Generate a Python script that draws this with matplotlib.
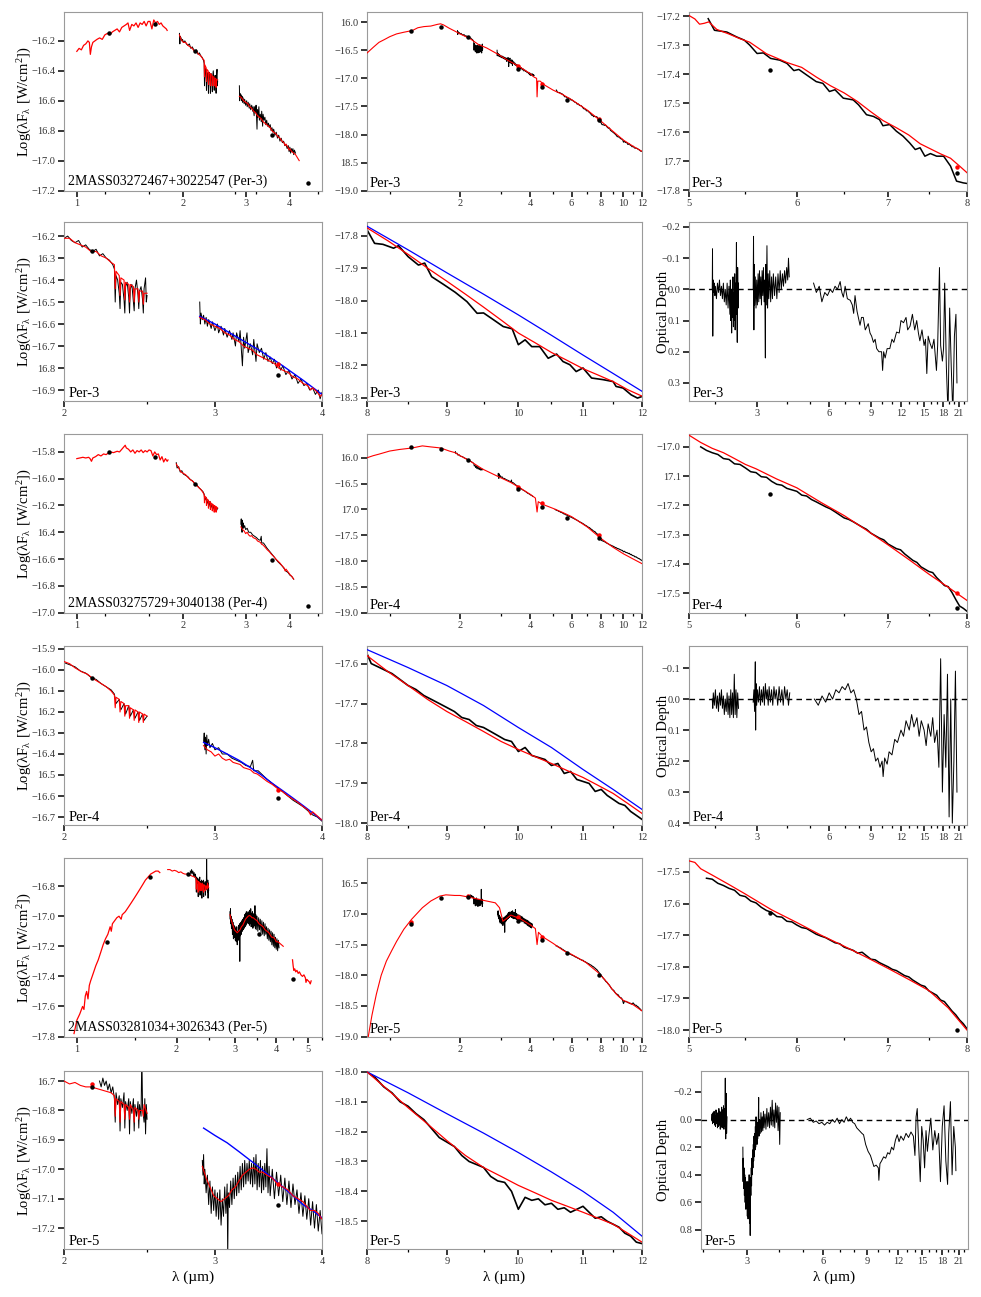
import numpy as np
import matplotlib
matplotlib.use('Agg')
import matplotlib.pyplot as plt
from matplotlib.ticker import FixedLocator, FixedFormatter, NullFormatter, NullLocator

plt.rcParams['font.family'] = ['Liberation Serif', 'DejaVu Serif']
plt.rcParams['mathtext.fontset'] = 'stix'

# ---------------- DATA ----------------
# ===== Per-3 =====
p3_jh_model = [(1.000,-16.27),(1.015,-16.25),(1.030,-16.26),(1.045,-16.23),(1.060,-16.22),(1.075,-16.20),(1.085,-16.21),(1.092,-16.29),(1.100,-16.24),(1.110,-16.21),(1.125,-16.20),(1.140,-16.19),(1.160,-16.18),(1.180,-16.19),(1.200,-16.16),(1.220,-16.15),(1.240,-16.16),(1.260,-16.14),(1.280,-16.13),(1.300,-16.12),(1.320,-16.14),(1.340,-16.11),(1.360,-16.10),(1.380,-16.09),(1.395,-16.08),(1.410,-16.13),(1.430,-16.09),(1.450,-16.10),(1.470,-16.08),(1.490,-16.11),(1.510,-16.08),(1.530,-16.09),(1.550,-16.07),(1.570,-16.10),(1.590,-16.07),(1.610,-16.07),(1.630,-16.12),(1.650,-16.06),(1.670,-16.08),(1.690,-16.07),(1.710,-16.09),(1.730,-16.08),(1.750,-16.10),(1.770,-16.11),(1.790,-16.12),(1.800,-16.13)]
p3_k_obs = [(1.95,-16.15),(1.955,-16.22),(1.96,-16.17),(1.97,-16.18),(1.98,-16.20),(1.99,-16.19),(2.00,-16.21),(2.02,-16.20),(2.04,-16.22),(2.06,-16.23),(2.08,-16.22),(2.10,-16.25),(2.12,-16.24),(2.14,-16.26),(2.16,-16.27),(2.18,-16.26),(2.20,-16.29),(2.22,-16.28),(2.24,-16.30),(2.26,-16.31),(2.28,-16.33),(2.29,-16.35),(2.295,-16.50),(2.30,-16.38),(2.31,-16.40),(2.32,-16.46),(2.325,-16.53),(2.33,-16.41),(2.34,-16.42),(2.35,-16.49),(2.355,-16.55),(2.36,-16.43),(2.37,-16.41),(2.38,-16.48),(2.385,-16.55),(2.39,-16.44),(2.40,-16.42),(2.41,-16.50),(2.415,-16.54),(2.42,-16.44),(2.43,-16.40),(2.44,-16.47),(2.445,-16.53),(2.45,-16.45),(2.46,-16.43),(2.47,-16.49),(2.475,-16.55),(2.48,-16.44),(2.49,-16.39),(2.495,-16.50),(2.50,-16.47)]
p3_k_model = [(1.95,-16.16),(1.97,-16.19),(2.00,-16.21),(2.03,-16.21),(2.06,-16.23),(2.09,-16.24),(2.12,-16.25),(2.15,-16.27),(2.18,-16.27),(2.21,-16.29),(2.24,-16.30),(2.27,-16.32),(2.29,-16.33),(2.295,-16.44),(2.30,-16.36),(2.32,-16.38),(2.325,-16.47),(2.33,-16.39),(2.35,-16.40),(2.355,-16.49),(2.36,-16.41),(2.38,-16.42),(2.385,-16.50),(2.39,-16.42),(2.41,-16.43),(2.415,-16.50),(2.42,-16.44),(2.44,-16.44),(2.445,-16.50),(2.45,-16.45),(2.47,-16.45),(2.475,-16.51),(2.48,-16.46),(2.50,-16.46)]
p3_l_obs = [(2.88,-16.50),(2.885,-16.60),(2.89,-16.55),(2.90,-16.58),(2.91,-16.56),(2.92,-16.60),(2.93,-16.57),(2.94,-16.61),(2.95,-16.58),(2.97,-16.62),(2.98,-16.59),(3.00,-16.63),(3.02,-16.60),(3.03,-16.64),(3.05,-16.61),(3.07,-16.65),(3.08,-16.62),(3.10,-16.66),(3.12,-16.63),(3.14,-16.67),(3.15,-16.64),(3.17,-16.70),(3.18,-16.64),(3.20,-16.68),(3.21,-16.63),(3.23,-16.79),(3.24,-16.66),(3.25,-16.71),(3.27,-16.64),(3.28,-16.73),(3.30,-16.69),(3.32,-16.74),(3.33,-16.67),(3.35,-16.77),(3.36,-16.69),(3.38,-16.73),(3.40,-16.71),(3.42,-16.76),(3.44,-16.73),(3.46,-16.77),(3.48,-16.75),(3.50,-16.78),(3.52,-16.76),(3.54,-16.80),(3.56,-16.78),(3.58,-16.81),(3.60,-16.79),(3.63,-16.83),(3.66,-16.81),(3.69,-16.85),(3.72,-16.83),(3.75,-16.87),(3.78,-16.85),(3.81,-16.88),(3.84,-16.87),(3.87,-16.90),(3.90,-16.89),(3.93,-16.92),(3.96,-16.90),(3.98,-16.94),(4.00,-16.91),(4.02,-16.95),(4.04,-16.92),(4.06,-16.94),(4.08,-16.92),(4.10,-16.96),(4.12,-16.93),(4.15,-16.95)]
p3_l_model = [(2.88,-16.57),(2.92,-16.58),(2.96,-16.60),(3.00,-16.61),(3.04,-16.62),(3.08,-16.64),(3.12,-16.65),(3.16,-16.67),(3.20,-16.68),(3.24,-16.70),(3.28,-16.71),(3.32,-16.72),(3.36,-16.74),(3.40,-16.75),(3.44,-16.76),(3.48,-16.77),(3.52,-16.78),(3.56,-16.80),(3.60,-16.81),(3.65,-16.82),(3.70,-16.84),(3.75,-16.85),(3.80,-16.87),(3.85,-16.88),(3.88,-16.90),(3.90,-16.89),(3.95,-16.91),(3.98,-16.93),(4.00,-16.92),(4.05,-16.94),(4.10,-16.95),(4.15,-16.96),(4.20,-16.98),(4.25,-17.00)]
p3_l_cont = [(2.88,-16.565),(3.0,-16.60),(3.2,-16.665),(3.4,-16.725),(3.6,-16.79),(3.8,-16.855),(4.0,-16.92)]
p3_irs_a = [(5.165,-17.209),(5.22,-17.249),(5.33,-17.255),(5.42,-17.272),(5.49,-17.283),(5.54,-17.30),(5.61,-17.329),(5.67,-17.327),(5.74,-17.346),(5.83,-17.352),(5.90,-17.363),(5.97,-17.388),(6.02,-17.384),(6.10,-17.403),(6.20,-17.426),(6.27,-17.432),(6.34,-17.46),(6.40,-17.454),(6.49,-17.483),(6.60,-17.489),(6.66,-17.506),(6.75,-17.54),(6.83,-17.546),(6.90,-17.557),(6.94,-17.578),(7.02,-17.574),(7.10,-17.597),(7.18,-17.614),(7.26,-17.637),(7.33,-17.66),(7.39,-17.654),(7.45,-17.683),(7.52,-17.674),(7.60,-17.683),(7.69,-17.683),(7.78,-17.717),(7.86,-17.769),(7.95,-17.775),(8.00,-17.777)]
p3_irs_a_model = [(5.0,-17.198),(5.05,-17.21),(5.09,-17.228),(5.13,-17.225),(5.17,-17.22),(5.24,-17.246),(5.35,-17.262),(5.45,-17.278),(5.54,-17.29),(5.62,-17.31),(5.70,-17.33),(5.80,-17.345),(5.90,-17.36),(6.05,-17.377),(6.2,-17.41),(6.35,-17.44),(6.5,-17.465),(6.65,-17.495),(6.8,-17.53),(6.94,-17.56),(7.1,-17.585),(7.25,-17.61),(7.39,-17.64),(7.5,-17.655),(7.65,-17.675),(7.78,-17.69),(7.9,-17.717),(8.0,-17.74)]
p3_irs_b = [(8.0,-17.781),(8.09,-17.823),(8.19,-17.826),(8.32,-17.838),(8.38,-17.83),(8.50,-17.864),(8.63,-17.89),(8.71,-17.884),(8.80,-17.926),(8.95,-17.949),(9.11,-17.974),(9.27,-18.003),(9.41,-18.039),(9.50,-18.038),(9.64,-18.059),(9.78,-18.08),(9.91,-18.087),(10.0,-18.136),(10.10,-18.121),(10.20,-18.142),(10.32,-18.142),(10.45,-18.178),(10.58,-18.165),(10.68,-18.188),(10.79,-18.198),(10.89,-18.219),(11.0,-18.208),(11.14,-18.239),(11.33,-18.244),(11.50,-18.25),(11.55,-18.265),(11.67,-18.27),(11.81,-18.291),(11.92,-18.301),(12.0,-18.296)]
p3_irs_b_model = [(8.0,-17.775),(8.25,-17.815),(8.5,-17.857),(8.75,-17.90),(9.0,-17.94),(9.25,-17.98),(9.5,-18.02),(9.75,-18.06),(10.0,-18.10),(10.25,-18.13),(10.5,-18.16),(10.75,-18.185),(11.0,-18.21),(11.25,-18.23),(11.5,-18.25),(11.75,-18.275),(12.0,-18.295)]
p3_irs_b_cont = [(8.0,-17.77),(8.5,-17.843),(9.0,-17.914),(9.5,-17.98),(10.0,-18.044),(10.5,-18.107),(11.0,-18.168),(11.5,-18.225),(12.0,-18.28)]
p3_sed_model = [(0.80,-16.55),(0.85,-16.45),(0.90,-16.36),(0.95,-16.31),(1.00,-16.26),(1.07,-16.21),(1.15,-16.18),(1.25,-16.15),(1.32,-16.10),(1.40,-16.08),(1.50,-16.07),(1.60,-16.04),(1.65,-16.03),(1.70,-16.05),(1.80,-16.11),(1.90,-16.16),(2.00,-16.21),(2.20,-16.29),(2.40,-16.40),(2.60,-16.46),(2.90,-16.57),(3.20,-16.68),(3.55,-16.78),(3.80,-16.86),(4.00,-16.92),(4.15,-16.98),(4.25,-17.00),(4.27,-17.33),(4.30,-17.05),(4.40,-17.05),(4.60,-17.12),(5.00,-17.21),(5.50,-17.29),(6.00,-17.38),(7.00,-17.565),(8.00,-17.76),(9.00,-17.94),(10.0,-18.10),(11.0,-18.21),(12.0,-18.30)]
p3_phot = [(1.235,-16.15),(1.662,-16.09),(2.159,-16.27),(3.55,-16.83),(4.49,-17.15),(5.73,-17.385),(7.87,-17.74)]
p3_phot_model = [(3.55,-16.78),(4.49,-17.10),(7.87,-17.72)]
p3_tau_1 = [(1.94,0.00),(1.945,-0.13),(1.95,0.15),(1.955,0.02),(1.96,-0.03),(1.97,0.01),(1.98,-0.02),(1.99,0.02),(2.00,-0.01),(2.02,0.03),(2.04,-0.02),(2.06,0.01),(2.08,-0.03),(2.10,0.02),(2.12,-0.01),(2.14,0.03),(2.16,-0.02),(2.18,0.04),(2.20,0.00),(2.22,0.05),(2.24,-0.02),(2.26,0.06),(2.28,-0.01),(2.30,0.08),(2.31,-0.03),(2.32,0.10),(2.33,0.00),(2.34,0.14),(2.35,0.02),(2.36,0.09),(2.37,-0.04),(2.38,0.12),(2.39,0.01),(2.40,0.10),(2.41,-0.05),(2.42,0.13),(2.43,-0.02),(2.44,0.08),(2.45,-0.15),(2.46,0.05),(2.47,0.17),(2.48,-0.07),(2.49,0.06),(2.50,-0.02)]
p3_tau_2 = [(2.88,0.00),(2.89,-0.17),(2.90,0.13),(2.91,-0.08),(2.92,0.05),(2.94,-0.04),(2.96,0.06),(2.98,-0.03),(3.00,0.05),(3.02,-0.05),(3.04,0.04),(3.06,-0.06),(3.08,0.03),(3.10,-0.04),(3.12,0.05),(3.14,-0.06),(3.16,0.02),(3.18,-0.07),(3.20,0.04),(3.22,-0.03),(3.24,0.22),(3.25,-0.08),(3.27,0.05),(3.29,-0.14),(3.31,0.06),(3.33,-0.05),(3.35,0.03),(3.38,-0.06),(3.41,0.04),(3.44,-0.04),(3.47,0.03),(3.50,-0.05),(3.54,0.02),(3.58,-0.04),(3.62,0.03),(3.66,-0.05),(3.70,0.01),(3.74,-0.06),(3.78,0.00),(3.82,-0.05),(3.86,-0.01),(3.90,-0.06),(3.94,-0.02),(3.98,-0.07),(4.02,-0.03),(4.05,-0.10),(4.08,-0.04)]
p3_tau_3 = [(5.16,-0.02),(5.3,0.01),(5.45,-0.01),(5.59,0.04),(5.75,0.01),(5.9,0.02),(6.06,0.00),(6.2,0.01),(6.35,-0.01),(6.5,0.00),(6.67,-0.025),(6.78,0.01),(6.88,0.025),(7.0,-0.01),(7.15,0.03),(7.35,0.035),(7.5,0.05),(7.6,0.077),(7.7,0.02),(7.85,0.07),(8.08,0.115),(8.2,0.09),(8.34,0.09),(8.5,0.13),(8.75,0.11),(8.9,0.14),(9.04,0.15),(9.2,0.17),(9.35,0.16),(9.49,0.19),(9.7,0.2),(9.95,0.2),(10.05,0.26),(10.15,0.2),(10.3,0.22),(10.5,0.19),(10.77,0.19),(11.0,0.16),(11.2,0.17),(11.5,0.137),(11.8,0.14),(12.0,0.10),(12.3,0.107),(12.6,0.09),(12.8,0.13),(13.1,0.118),(13.4,0.08),(13.7,0.13),(13.97,0.10),(14.2,0.14),(14.4,0.165),(14.7,0.13),(15.0,0.18),(15.2,0.16),(15.4,0.27),(15.6,0.15),(15.9,0.174),(16.2,0.19),(16.5,0.16),(16.9,0.26),(17.1,0.18),(17.4,-0.07),(17.6,0.18),(17.9,0.23),(18.1,0.19),(18.3,-0.02),(18.6,0.25),(18.9,0.40),(19.2,0.06),(19.5,0.25),(19.8,0.40),(20.1,0.15),(20.4,0.08),(20.6,0.30)]

# ===== Per-4 =====
p4_jh_model = [(1.000,-15.85),(1.02,-15.845),(1.04,-15.84),(1.06,-15.845),(1.08,-15.84),(1.09,-15.85),(1.10,-15.87),(1.11,-15.845),(1.13,-15.835),(1.15,-15.82),(1.17,-15.83),(1.19,-15.815),(1.21,-15.82),(1.24,-15.80),(1.27,-15.805),(1.30,-15.795),(1.32,-15.80),(1.34,-15.78),(1.36,-15.76),(1.37,-15.75),(1.38,-15.77),(1.40,-15.78),(1.42,-15.80),(1.44,-15.785),(1.46,-15.81),(1.48,-15.79),(1.50,-15.80),(1.52,-15.785),(1.54,-15.805),(1.56,-15.79),(1.58,-15.80),(1.60,-15.785),(1.62,-15.79),(1.64,-15.83),(1.66,-15.80),(1.68,-15.82),(1.70,-15.815),(1.72,-15.86),(1.74,-15.835),(1.76,-15.875),(1.78,-15.85),(1.80,-15.87),(1.81,-15.86)]
p4_k_obs = [(1.91,-15.88),(1.92,-15.92),(1.94,-15.91),(1.96,-15.95),(1.98,-15.94),(2.00,-15.965),(2.03,-15.975),(2.06,-15.985),(2.09,-16.005),(2.12,-16.015),(2.15,-16.035),(2.18,-16.045),(2.21,-16.065),(2.24,-16.08),(2.27,-16.095),(2.29,-16.115),(2.30,-16.16),(2.32,-16.14),(2.33,-16.19),(2.35,-16.16),(2.36,-16.21),(2.38,-16.17),(2.39,-16.22),(2.41,-16.19),(2.42,-16.23),(2.44,-16.20),(2.45,-16.24),(2.47,-16.21),(2.48,-16.24),(2.50,-16.22)]
p4_k_model = [(1.91,-15.89),(1.93,-15.91),(1.95,-15.93),(1.97,-15.95),(2.00,-15.96),(2.03,-15.97),(2.06,-15.99),(2.10,-16.01),(2.13,-16.02),(2.16,-16.04),(2.20,-16.06),(2.24,-16.08),(2.27,-16.10),(2.29,-16.12),(2.295,-16.18),(2.30,-16.13),(2.32,-16.14),(2.325,-16.20),(2.33,-16.15),(2.35,-16.16),(2.355,-16.22),(2.36,-16.17),(2.38,-16.17),(2.385,-16.23),(2.39,-16.18),(2.41,-16.19),(2.415,-16.24),(2.42,-16.19),(2.44,-16.20),(2.445,-16.25),(2.45,-16.20),(2.47,-16.21),(2.475,-16.25),(2.48,-16.21),(2.50,-16.22)]
p4_l_obs = [(2.91,-16.34),(2.915,-16.30),(2.92,-16.38),(2.925,-16.32),(2.93,-16.40),(2.935,-16.31),(2.94,-16.36),(2.95,-16.33),(2.96,-16.37),(2.98,-16.35),(3.00,-16.38),(3.03,-16.37),(3.06,-16.40),(3.10,-16.40),(3.14,-16.42),(3.18,-16.43),(3.22,-16.44),(3.26,-16.455),(3.30,-16.46),(3.32,-16.43),(3.33,-16.48),(3.37,-16.48),(3.41,-16.50),(3.45,-16.52),(3.50,-16.54),(3.55,-16.56),(3.60,-16.58),(3.65,-16.60),(3.70,-16.62),(3.75,-16.635),(3.80,-16.65),(3.85,-16.67),(3.90,-16.69),(3.95,-16.70),(4.00,-16.72),(4.05,-16.73),(4.10,-16.75)]
p4_l_model = [(2.91,-16.36),(2.94,-16.38),(2.97,-16.39),(3.00,-16.41),(3.03,-16.40),(3.06,-16.42),(3.09,-16.43),(3.12,-16.425),(3.15,-16.44),(3.18,-16.445),(3.21,-16.45),(3.24,-16.465),(3.27,-16.47),(3.30,-16.475),(3.33,-16.49),(3.36,-16.495),(3.40,-16.51),(3.45,-16.53),(3.50,-16.545),(3.55,-16.565),(3.60,-16.58),(3.65,-16.60),(3.70,-16.615),(3.75,-16.63),(3.80,-16.65),(3.85,-16.665),(3.88,-16.69),(3.90,-16.675),(3.95,-16.695),(4.00,-16.715),(4.05,-16.73),(4.10,-16.75)]
p4_l_cont = [(2.91,-16.345),(3.0,-16.37),(3.1,-16.40),(3.2,-16.43),(3.3,-16.465),(3.4,-16.50),(3.5,-16.54),(3.6,-16.575),(3.7,-16.61),(3.8,-16.645),(3.9,-16.68),(4.0,-16.715)]
p4_irs_a = [(5.10,-17.00),(5.15,-17.012),(5.2,-17.02),(5.25,-17.026),(5.3,-17.04),(5.35,-17.043),(5.4,-17.058),(5.45,-17.06),(5.5,-17.072),(5.55,-17.085),(5.6,-17.088),(5.65,-17.102),(5.7,-17.104),(5.75,-17.118),(5.8,-17.128),(5.85,-17.131),(5.9,-17.142),(5.95,-17.147),(6.0,-17.152),(6.05,-17.165),(6.1,-17.168),(6.15,-17.18),(6.2,-17.188),(6.3,-17.205),(6.35,-17.212),(6.4,-17.222),(6.5,-17.243),(6.55,-17.248),(6.6,-17.256),(6.7,-17.274),(6.75,-17.282),(6.8,-17.295),(6.9,-17.312),(6.95,-17.318),(7.0,-17.332),(7.1,-17.348),(7.15,-17.352),(7.2,-17.366),(7.3,-17.388),(7.35,-17.395),(7.4,-17.41),(7.5,-17.426),(7.55,-17.43),(7.6,-17.447),(7.65,-17.46),(7.7,-17.474),(7.75,-17.478),(7.8,-17.498),(7.85,-17.522),(7.9,-17.544),(7.95,-17.552),(8.0,-17.562)]
p4_irs_a_model = [(5.0,-16.96),(5.1,-16.985),(5.2,-17.005),(5.3,-17.02),(5.4,-17.04),(5.5,-17.06),(5.6,-17.075),(5.8,-17.11),(6.0,-17.14),(6.25,-17.19),(6.5,-17.235),(6.75,-17.285),(7.0,-17.335),(7.25,-17.385),(7.5,-17.435),(7.75,-17.48),(8.0,-17.525)]
p4_irs_b = [(8.0,-17.575),(8.05,-17.60),(8.15,-17.61),(8.3,-17.625),(8.4,-17.64),(8.5,-17.655),(8.6,-17.665),(8.7,-17.68),(8.8,-17.69),(8.9,-17.70),(9.0,-17.71),(9.1,-17.72),(9.2,-17.735),(9.3,-17.74),(9.4,-17.755),(9.5,-17.76),(9.6,-17.77),(9.7,-17.78),(9.8,-17.79),(9.9,-17.795),(10.0,-17.82),(10.1,-17.81),(10.2,-17.83),(10.3,-17.835),(10.4,-17.84),(10.5,-17.855),(10.6,-17.85),(10.7,-17.875),(10.8,-17.87),(10.9,-17.89),(11.0,-17.895),(11.1,-17.90),(11.2,-17.92),(11.3,-17.915),(11.4,-17.93),(11.5,-17.94),(11.6,-17.95),(11.7,-17.955),(11.8,-17.97),(11.9,-17.98),(12.0,-17.99)]
p4_irs_b_model = [(8.0,-17.58),(8.25,-17.62),(8.5,-17.655),(8.75,-17.69),(9.0,-17.72),(9.25,-17.745),(9.5,-17.77),(9.75,-17.795),(10.0,-17.815),(10.25,-17.833),(10.5,-17.85),(10.75,-17.868),(11.0,-17.885),(11.25,-17.905),(11.5,-17.925),(11.75,-17.95),(12.0,-17.975)]
p4_irs_b_cont = [(8.0,-17.565),(8.5,-17.61),(9.0,-17.655),(9.5,-17.705),(10.0,-17.76),(10.5,-17.81),(11.0,-17.865),(11.5,-17.915),(12.0,-17.965)]
p4_sed_model = [(0.80,-16.00),(0.85,-15.96),(0.90,-15.93),(1.00,-15.87),(1.10,-15.84),(1.25,-15.81),(1.38,-15.77),(1.50,-15.79),(1.65,-15.81),(1.80,-15.87),(1.90,-15.90),(2.00,-15.96),(2.20,-16.06),(2.50,-16.22),(2.90,-16.36),(3.30,-16.48),(3.60,-16.58),(4.00,-16.71),(4.20,-16.78),(4.27,-17.05),(4.32,-16.85),(4.50,-16.90),(5.00,-16.98),(5.50,-17.06),(6.00,-17.14),(7.00,-17.34),(8.00,-17.56),(9.00,-17.73),(10.0,-17.86),(11.0,-17.96),(12.0,-18.05)]
p4_phot = [(1.235,-15.80),(1.662,-15.84),(2.159,-16.04),(3.55,-16.61),(4.49,-16.95),(5.73,-17.16),(7.87,-17.55)]
p4_phot_model = [(3.55,-16.57),(4.49,-16.88),(7.87,-17.50)]
p4_tau_1 = [(1.94,0.0),(1.95,0.03),(1.96,-0.02),(1.98,0.02),(2.00,-0.03),(2.02,0.03),(2.04,-0.01),(2.06,0.04),(2.08,-0.02),(2.10,0.02),(2.12,-0.03),(2.14,0.03),(2.16,-0.01),(2.18,0.05),(2.20,0.00),(2.22,0.04),(2.24,-0.02),(2.26,0.05),(2.28,-0.01),(2.30,0.06),(2.32,-0.03),(2.34,0.05),(2.36,-0.02),(2.38,0.06),(2.40,-0.08),(2.42,0.05),(2.44,-0.03),(2.46,0.06),(2.48,-0.02),(2.50,0.03)]
p4_tau_2 = [(2.88,0.01),(2.90,-0.03),(2.92,0.04),(2.94,-0.12),(2.95,0.10),(2.96,-0.05),(2.98,0.02),(3.00,-0.03),(3.03,0.01),(3.06,-0.04),(3.09,0.02),(3.12,-0.03),(3.15,0.01),(3.18,-0.04),(3.21,0.02),(3.24,-0.05),(3.27,0.00),(3.30,-0.03),(3.33,0.02),(3.36,-0.04),(3.40,0.01),(3.44,-0.03),(3.48,0.02),(3.52,-0.04),(3.56,0.00),(3.60,-0.03),(3.65,0.02),(3.70,-0.04),(3.75,0.01),(3.80,-0.03),(3.85,0.02),(3.90,-0.04),(3.95,0.00),(4.00,-0.03),(4.05,0.02),(4.10,-0.02)]
p4_tau_3 = [(5.2,0.00),(5.4,0.02),(5.6,-0.01),(5.8,0.01),(6.0,-0.02),(6.2,0.00),(6.4,-0.03),(6.6,-0.02),(6.8,-0.04),(7.0,-0.03),(7.2,-0.05),(7.4,-0.02),(7.6,-0.03),(7.8,0.00),(8.0,0.05),(8.2,0.04),(8.4,0.10),(8.6,0.09),(8.8,0.14),(9.0,0.17),(9.2,0.16),(9.4,0.20),(9.6,0.19),(9.8,0.22),(10.0,0.20),(10.1,0.25),(10.25,0.19),(10.5,0.21),(10.7,0.17),(11.0,0.18),(11.3,0.13),(11.6,0.14),(12.0,0.10),(12.3,0.12),(12.6,0.07),(13.0,0.10),(13.3,0.05),(13.6,0.09),(14.0,0.06),(14.3,0.12),(14.6,0.07),(15.0,0.10),(15.3,0.15),(15.6,0.08),(16.0,0.12),(16.3,0.06),(16.6,0.14),(17.0,0.10),(17.3,0.22),(17.6,-0.13),(17.9,0.30),(18.2,0.05),(18.5,0.22),(18.8,-0.08),(19.1,0.38),(19.4,0.00),(19.7,0.40),(20.0,0.20),(20.3,-0.09),(20.6,0.30)]

# ===== Per-5 =====
p5_jh_model = [(0.98,-17.78),(1.00,-17.69),(1.02,-17.65),(1.04,-17.60),(1.05,-17.62),(1.06,-17.53),(1.07,-17.50),(1.08,-17.55),(1.09,-17.46),(1.10,-17.43),(1.12,-17.38),(1.14,-17.33),(1.16,-17.29),(1.18,-17.24),(1.20,-17.19),(1.22,-17.15),(1.24,-17.12),(1.26,-17.07),(1.27,-17.10),(1.28,-17.05),(1.30,-17.03),(1.32,-17.01),(1.34,-17.00),(1.36,-17.02),(1.37,-16.99),(1.40,-16.97),(1.43,-16.94),(1.46,-16.91),(1.49,-16.88),(1.52,-16.85),(1.55,-16.82),(1.58,-16.79),(1.61,-16.76),(1.64,-16.74),(1.67,-16.72),(1.70,-16.71),(1.73,-16.70),(1.76,-16.70),(1.78,-16.71)]
p5_k_obs = [(2.20,-16.70),(2.21,-16.72),(2.22,-16.69),(2.23,-16.715),(2.24,-16.70),(2.25,-16.73),(2.26,-16.71),(2.27,-16.74),(2.28,-16.72),(2.29,-16.76),(2.295,-16.84),(2.30,-16.74),(2.31,-16.78),(2.32,-16.75),(2.325,-16.87),(2.33,-16.76),(2.34,-16.79),(2.35,-16.74),(2.355,-16.86),(2.36,-16.77),(2.37,-16.80),(2.38,-16.76),(2.385,-16.88),(2.39,-16.77),(2.40,-16.81),(2.41,-16.76),(2.415,-16.87),(2.42,-16.78),(2.43,-16.82),(2.44,-16.77),(2.445,-16.86),(2.45,-16.78),(2.46,-16.82),(2.465,-16.60),(2.47,-16.79),(2.48,-16.84),(2.485,-16.76),(2.49,-16.88),(2.495,-16.78),(2.50,-16.83)]
p5_k_model = [(1.88,-16.69),(1.91,-16.69),(1.94,-16.70),(1.97,-16.695),(2.00,-16.70),(2.03,-16.71),(2.06,-16.705),(2.09,-16.715),(2.12,-16.72),(2.15,-16.72),(2.18,-16.725),(2.21,-16.73),(2.24,-16.735),(2.27,-16.74),(2.29,-16.75),(2.295,-16.82),(2.30,-16.76),(2.32,-16.77),(2.325,-16.84),(2.33,-16.77),(2.35,-16.78),(2.355,-16.83),(2.36,-16.78),(2.38,-16.79),(2.385,-16.83),(2.39,-16.78),(2.41,-16.80),(2.415,-16.84),(2.42,-16.79),(2.44,-16.80),(2.445,-16.83),(2.45,-16.80),(2.47,-16.80),(2.475,-16.82),(2.48,-16.78),(2.50,-16.81)]
p5_l_obs = [(2.90,-16.97),(2.905,-17.02),(2.91,-16.95),(2.915,-17.05),(2.92,-17.00),(2.93,-17.08),(2.94,-17.02),(2.95,-17.12),(2.96,-17.04),(2.97,-17.15),(2.98,-17.06),(2.99,-17.14),(3.00,-17.07),(3.01,-17.16),(3.02,-17.08),(3.03,-17.17),(3.04,-17.07),(3.05,-17.19),(3.06,-17.10),(3.07,-17.16),(3.08,-17.06),(3.09,-17.15),(3.10,-17.05),(3.105,-17.30),(3.11,-17.08),(3.12,-17.13),(3.13,-17.04),(3.14,-17.12),(3.15,-17.03),(3.16,-17.10),(3.17,-17.02),(3.18,-17.09),(3.19,-17.01),(3.20,-17.08),(3.21,-16.99),(3.22,-17.07),(3.23,-16.98),(3.24,-17.06),(3.25,-16.97),(3.26,-17.05),(3.27,-16.98),(3.28,-17.04),(3.29,-16.97),(3.30,-17.05),(3.31,-16.98),(3.32,-17.06),(3.33,-16.96),(3.34,-17.05),(3.35,-16.95),(3.36,-17.07),(3.37,-16.98),(3.38,-17.06),(3.39,-16.97),(3.40,-17.08),(3.41,-16.99),(3.42,-17.07),(3.43,-16.98),(3.44,-17.06),(3.45,-16.93),(3.46,-17.08),(3.47,-16.99),(3.48,-17.09),(3.50,-17.00),(3.52,-17.10),(3.54,-17.01),(3.56,-17.09),(3.58,-17.02),(3.60,-17.11),(3.62,-17.03),(3.64,-17.12),(3.66,-17.04),(3.68,-17.13),(3.70,-17.05),(3.72,-17.12),(3.74,-17.07),(3.76,-17.15),(3.78,-17.08),(3.80,-17.16),(3.82,-17.09),(3.84,-17.17),(3.86,-17.10),(3.88,-17.19),(3.90,-17.11),(3.92,-17.20),(3.94,-17.12),(3.96,-17.21),(3.98,-17.14),(4.00,-17.22),(4.02,-17.15),(4.04,-17.23),(4.06,-17.16),(4.08,-17.21)]
p5_l_model = [(2.90,-16.99),(2.93,-17.03),(2.96,-17.06),(2.99,-17.09),(3.02,-17.10),(3.05,-17.11),(3.08,-17.10),(3.11,-17.09),(3.14,-17.07),(3.17,-17.06),(3.20,-17.04),(3.23,-17.02),(3.26,-17.01),(3.29,-17.00),(3.32,-16.995),(3.35,-17.00),(3.38,-17.01),(3.41,-17.01),(3.45,-17.02),(3.50,-17.03),(3.55,-17.05),(3.60,-17.06),(3.65,-17.07),(3.70,-17.09),(3.75,-17.10),(3.80,-17.11),(3.85,-17.13),(3.88,-17.14),(3.92,-17.14),(3.96,-17.15),(4.00,-17.17),(4.05,-17.17),(4.10,-17.18),(4.15,-17.19),(4.20,-17.20)]
p5_l_cont = [(2.91,-16.86),(3.0,-16.885),(3.1,-16.91),(3.2,-16.94),(3.3,-16.97),(3.4,-17.00),(3.5,-17.03),(3.6,-17.06),(3.7,-17.09),(3.8,-17.12),(3.9,-17.14),(4.0,-17.165)]
p5_m_model = [(4.48,-17.29),(4.50,-17.33),(4.52,-17.36),(4.55,-17.35),(4.58,-17.37),(4.62,-17.36),(4.66,-17.38),(4.70,-17.37),(4.75,-17.39),(4.80,-17.40),(4.85,-17.39),(4.90,-17.41),(4.92,-17.44),(4.95,-17.42),(5.00,-17.43),(5.05,-17.44),(5.07,-17.45),(5.10,-17.43)]
p5_irs_a = [(5.15,-17.52),(5.2,-17.523),(5.25,-17.536),(5.3,-17.543),(5.35,-17.552),(5.4,-17.558),(5.45,-17.574),(5.5,-17.578),(5.55,-17.592),(5.6,-17.598),(5.65,-17.612),(5.7,-17.622),(5.75,-17.628),(5.8,-17.641),(5.85,-17.643),(5.9,-17.656),(5.95,-17.658),(6.0,-17.668),(6.05,-17.676),(6.1,-17.679),(6.2,-17.697),(6.25,-17.703),(6.3,-17.708),(6.4,-17.724),(6.45,-17.727),(6.5,-17.738),(6.6,-17.748),(6.65,-17.757),(6.7,-17.754),(6.8,-17.776),(6.85,-17.778),(6.9,-17.787),(7.0,-17.80),(7.05,-17.808),(7.1,-17.812),(7.2,-17.828),(7.25,-17.832),(7.3,-17.842),(7.4,-17.858),(7.45,-17.862),(7.5,-17.876),(7.6,-17.89),(7.65,-17.905),(7.7,-17.91),(7.75,-17.925),(7.8,-17.94),(7.85,-17.952),(7.9,-17.968),(7.95,-17.98),(8.0,-17.996)]
p5_irs_a_model = [(5.0,-17.465),(5.05,-17.47),(5.1,-17.49),(5.2,-17.51),(5.35,-17.54),(5.5,-17.57),(5.75,-17.62),(6.0,-17.66),(6.25,-17.70),(6.5,-17.735),(6.75,-17.77),(7.0,-17.805),(7.25,-17.84),(7.5,-17.875),(7.75,-17.93),(8.0,-18.0)]
p5_irs_b = [(8.0,-18.00),(8.1,-18.02),(8.2,-18.05),(8.3,-18.07),(8.4,-18.10),(8.5,-18.115),(8.6,-18.14),(8.7,-18.16),(8.8,-18.19),(8.9,-18.22),(9.0,-18.235),(9.1,-18.25),(9.2,-18.28),(9.3,-18.30),(9.4,-18.31),(9.5,-18.32),(9.6,-18.35),(9.7,-18.365),(9.8,-18.37),(9.9,-18.40),(10.0,-18.46),(10.1,-18.42),(10.2,-18.43),(10.3,-18.425),(10.4,-18.445),(10.5,-18.44),(10.6,-18.46),(10.7,-18.455),(10.8,-18.47),(10.9,-18.46),(11.0,-18.45),(11.1,-18.47),(11.2,-18.49),(11.3,-18.485),(11.4,-18.50),(11.5,-18.51),(11.6,-18.52),(11.7,-18.54),(11.8,-18.55),(11.9,-18.57),(12.0,-18.575)]
p5_irs_b_model = [(8.0,-18.0),(8.25,-18.06),(8.5,-18.12),(8.75,-18.175),(9.0,-18.23),(9.25,-18.28),(9.5,-18.32),(9.75,-18.35),(10.0,-18.38),(10.25,-18.405),(10.5,-18.43),(10.75,-18.45),(11.0,-18.47),(11.25,-18.49),(11.5,-18.51),(11.75,-18.54),(12.0,-18.57)]
p5_irs_b_cont = [(8.0,-18.0),(8.5,-18.07),(9.0,-18.14),(9.5,-18.205),(10.0,-18.27),(10.5,-18.335),(11.0,-18.40),(11.5,-18.47),(12.0,-18.55)]
p5_sed_model = [(0.81,-19.00),(0.84,-18.65),(0.877,-18.31),(0.92,-18.0),(0.968,-17.77),(1.02,-17.6),(1.07,-17.45),(1.15,-17.25),(1.24,-17.09),(1.38,-16.90),(1.50,-16.79),(1.64,-16.71),(1.74,-16.69),(1.90,-16.70),(2.00,-16.70),(2.20,-16.73),(2.52,-16.78),(2.83,-16.82),(2.95,-16.90),(3.05,-17.12),(3.15,-17.08),(3.30,-17.02),(3.62,-17.08),(4.00,-17.18),(4.20,-17.24),(4.27,-17.50),(4.33,-17.30),(4.50,-17.37),(5.00,-17.48),(5.55,-17.60),(6.00,-17.66),(6.90,-17.79),(7.76,-17.95),(8.0,-18.0),(8.53,-18.12),(9.0,-18.24),(9.44,-18.33),(10.0,-18.41),(10.3,-18.43),(11.0,-18.48),(12.0,-18.58)]
p5_phot = [(1.235,-17.17),(1.662,-16.74),(2.159,-16.72),(3.55,-17.12),(4.49,-17.42),(5.73,-17.63),(7.87,-18.0)]
p5_phot_model = [(1.235,-17.13),(2.159,-16.71),(3.55,-17.05),(4.49,-17.37)]
p5_tau_1 = [(2.16,0.00),(2.17,-0.04),(2.18,0.03),(2.19,-0.05),(2.20,0.02),(2.21,-0.06),(2.22,0.04),(2.23,-0.03),(2.24,0.05),(2.25,-0.07),(2.26,0.03),(2.27,-0.05),(2.28,0.06),(2.29,-0.04),(2.30,0.05),(2.31,-0.08),(2.32,0.04),(2.33,-0.06),(2.34,0.07),(2.35,-0.05),(2.36,0.05),(2.37,-0.09),(2.38,0.06),(2.39,-0.07),(2.40,0.04),(2.41,-0.10),(2.42,0.07),(2.43,-0.08),(2.44,0.05),(2.45,-0.30),(2.46,0.14),(2.47,-0.19),(2.48,0.10),(2.49,-0.02)]
p5_tau_2 = [(2.88,0.20),(2.885,0.45),(2.89,0.28),(2.90,0.50),(2.91,0.35),(2.92,0.55),(2.93,0.40),(2.94,0.60),(2.95,0.42),(2.96,0.65),(2.97,0.45),(2.98,0.62),(2.99,0.48),(3.00,0.70),(3.01,0.45),(3.02,0.72),(3.03,0.50),(3.04,0.60),(3.05,0.40),(3.06,0.75),(3.07,0.45),(3.08,0.84),(3.09,0.42),(3.10,0.55),(3.11,0.35),(3.12,0.48),(3.13,0.28),(3.14,0.40),(3.15,0.22),(3.16,0.35),(3.17,0.18),(3.18,0.30),(3.19,0.12),(3.20,0.27),(3.21,0.10),(3.22,0.22),(3.23,0.05),(3.24,0.20),(3.25,-0.02),(3.26,0.15),(3.27,0.03),(3.28,0.18),(3.29,0.02),(3.30,0.14),(3.32,-0.02),(3.33,-0.16),(3.34,0.12),(3.36,0.00),(3.38,0.10),(3.40,-0.05),(3.42,0.09),(3.44,-0.02),(3.46,0.08),(3.48,-0.06),(3.50,0.06),(3.53,-0.04),(3.56,0.07),(3.59,-0.08),(3.62,0.05),(3.65,-0.05),(3.68,0.06),(3.71,-0.09),(3.74,0.04),(3.77,-0.14),(3.80,0.05),(3.83,-0.07),(3.86,0.06),(3.89,-0.12),(3.92,0.02),(3.95,-0.10),(3.98,0.08),(4.01,-0.09),(4.04,0.18),(4.06,-0.05)]
p5_tau_3 = [(5.2,0.00),(5.35,-0.01),(5.5,0.02),(5.65,0.01),(5.8,0.03),(5.95,0.02),(6.1,0.04),(6.25,0.02),(6.4,0.03),(6.55,0.00),(6.7,0.02),(6.85,-0.01),(7.0,0.03),(7.15,0.00),(7.3,0.02),(7.45,-0.02),(7.6,0.01),(7.75,-0.01),(7.9,0.02),(8.05,0.03),(8.2,0.06),(8.4,0.08),(8.6,0.10),(8.73,0.11),(8.9,0.18),(9.1,0.23),(9.3,0.26),(9.45,0.30),(9.6,0.34),(9.8,0.33),(10.0,0.35),(10.05,0.44),(10.15,0.32),(10.3,0.30),(10.5,0.27),(10.7,0.28),(10.9,0.24),(11.1,0.25),(11.3,0.20),(11.5,0.22),(11.7,0.15),(11.9,0.11),(12.1,0.16),(12.3,0.12),(12.6,0.15),(12.9,0.10),(13.2,0.13),(13.5,0.09),(13.8,0.12),(14.0,0.26),(14.15,-0.02),(14.3,-0.08),(14.5,0.20),(14.7,0.45),(14.9,0.05),(15.1,0.15),(15.3,0.35),(15.5,0.08),(15.7,0.23),(15.9,0.12),(16.2,-0.01),(16.5,0.22),(16.8,0.08),(17.1,0.18),(17.4,0.10),(17.7,0.45),(18.0,0.05),(18.3,-0.10),(18.6,0.30),(18.9,0.47),(19.1,0.10),(19.4,-0.13),(19.7,0.40),(20.0,0.05),(20.3,0.20),(20.4,0.37)]

star_names = ['Per-3', 'Per-4', 'Per-5']
star_long = ['2MASS03272467+3022547 (Per-3)', '2MASS03275729+3040138 (Per-4)', '2MASS03281034+3026343 (Per-5)']

# y ticks (values and labels as printed) per (row, col)
yt = {
 (0,0): ([-16.2,-16.4,-16.6,-16.8,-17.0,-17.2], ['−16.2','−16.4','16.6','16.8','−17.0','−17.2']),
 (0,1): ([-16.0,-16.5,-17.0,-17.5,-18.0,-18.5,-19.0], ['16.0','−16.5','−17.0','−17.5','−18.0','18.5','−19.0']),
 (0,2): ([-17.2,-17.3,-17.4,-17.5,-17.6,-17.7,-17.8], ['−17.2','−17.3','−17.4','17.5','−17.6','17.7','−17.8']),
 (1,0): ([-16.2,-16.3,-16.4,-16.5,-16.6,-16.7,-16.8,-16.9], ['−16.2','16.3','−16.4','−16.5','−16.6','−16.7','16.8','−16.9']),
 (1,1): ([-17.8,-17.9,-18.0,-18.1,-18.2,-18.3], ['−17.8','−17.9','−18.0','−18.1','−18.2','−18.3']),
 (1,2): ([-0.2,-0.1,0.0,0.1,0.2,0.3], ['−0.2','−0.1','0.0','0.1','0.2','0.3']),
 (2,0): ([-15.8,-16.0,-16.2,-16.4,-16.6,-16.8,-17.0], ['−15.8','−16.0','−16.2','16.4','−16.6','−16.8','−17.0']),
 (2,1): ([-16.0,-16.5,-17.0,-17.5,-18.0,-18.5,-19.0], ['16.0','−16.5','17.0','−17.5','−18.0','−18.5','−19.0']),
 (2,2): ([-17.0,-17.1,-17.2,-17.3,-17.4,-17.5], ['−17.0','17.1','−17.2','−17.3','−17.4','−17.5']),
 (3,0): ([-15.9,-16.0,-16.1,-16.2,-16.3,-16.4,-16.5,-16.6,-16.7], ['−15.9','−16.0','16.1','16.2','−16.3','−16.4','16.5','−16.6','−16.7']),
 (3,1): ([-17.6,-17.7,-17.8,-17.9,-18.0], ['−17.6','−17.7','−17.8','−17.9','−18.0']),
 (3,2): ([-0.1,0.0,0.1,0.2,0.3,0.4], ['−0.1','0.0','0.1','0.2','0.3','0.4']),
 (4,0): ([-16.8,-17.0,-17.2,-17.4,-17.6,-17.8], ['−16.8','−17.0','−17.2','−17.4','−17.6','−17.8']),
 (4,1): ([-16.5,-17.0,-17.5,-18.0,-18.5,-19.0], ['16.5','17.0','−17.5','−18.0','−18.5','−19.0']),
 (4,2): ([-17.5,-17.6,-17.7,-17.8,-17.9,-18.0], ['−17.5','17.6','−17.7','−17.8','−17.9','−18.0']),
 (5,0): ([-16.7,-16.8,-16.9,-17.0,-17.1,-17.2], ['16.7','−16.8','−16.9','−17.0','−17.1','−17.2']),
 (5,1): ([-18.0,-18.1,-18.2,-18.3,-18.4,-18.5], ['−18.0','−18.1','−18.2','−18.3','−18.4','−18.5']),
 (5,2): ([-0.2,0.0,0.2,0.4,0.6,0.8], ['−0.2','0.0','0.2','0.4','0.6','0.8']),
}
ylims = {
 (0,0): (-17.203,-16.007), (0,1): (-19.005,-15.82), (0,2): (-17.803,-17.186),
 (1,0): (-16.95,-16.136), (1,1): (-18.31,-17.757), (1,2): (0.358,-0.216),
 (2,0): (-17.003,-15.666), (2,1): (-19.005,-15.54), (2,2): (-17.568,-16.956),
 (3,0): (-16.738,-15.886), (3,1): (-18.004,-17.556), (3,2): (0.406,-0.171),
 (4,0): (-17.803,-16.613), (4,1): (-19.005,-16.09), (4,2): (-18.022,-17.456),
 (5,0): (-17.271,-16.666), (5,1): (-18.593,-17.997), (5,2): (0.938,-0.352),
}

# ---------------- FIGURE ----------------
W, H = 981, 1297
fig = plt.figure(figsize=(W/100, H/100), dpi=100)
rows_px = [(12,191),(222,401),(434,613),(646,825),(858,1037),(1071,1249)]
cols_px = [(64,322),(367,642),(689,967)]

def add_ax(l, r, t, b):
    return fig.add_axes([l/W, 1-b/H, (r-l)/W, (b-t)/H])

def P(pairs):
    a = np.asarray(pairs, dtype=float)
    return a[:,0], a[:,1]

def draw(ax, pairs, color, lw, z):
    x, y = P(pairs)
    ax.plot(x, y, color=color, lw=lw, zorder=z)

def dots(ax, pairs, color, ms, z):
    x, y = P(pairs)
    ax.plot(x, y, 'o', color=color, ms=ms, mec='none', zorder=z)

def style(ax, xlim, xmaj, xlab, xmin, key):
    ax.set_xscale('log')
    ax.set_xlim(*xlim)
    ax.set_ylim(*ylims[key])
    ax.xaxis.set_major_locator(FixedLocator(xmaj))
    ax.xaxis.set_major_formatter(FixedFormatter(xlab))
    ax.xaxis.set_minor_locator(FixedLocator(xmin))
    ax.xaxis.set_minor_formatter(NullFormatter())
    v, l = yt[key]
    ax.yaxis.set_major_locator(FixedLocator(v))
    ax.yaxis.set_major_formatter(FixedFormatter(l))
    ax.yaxis.set_minor_locator(NullLocator())
    ax.tick_params(which='both', direction='out', top=False, right=False,
                   labelsize=7.5, labelcolor='#333333', color='black', pad=2)
    ax.tick_params(which='major', length=4, width=1.1)
    ax.tick_params(which='minor', length=2.5, width=0.9)
    for s in ax.spines.values():
        s.set_color('#9a9a9a'); s.set_linewidth(0.8)

ylab = 'Log(λF$_{\\mathregular{λ}}$ [W/cm$^{\\mathregular{2}}$])'
tick_minor_F = [2,4,5,7,8,10,11,13,14,16,17,19,20,22]

stars = [
 dict(jh=p3_jh_model, kobs=p3_k_obs, kmod=p3_k_model, lobs=p3_l_obs, lmod=p3_l_model, lcont=p3_l_cont,
      irsa=p3_irs_a, irsam=p3_irs_a_model, irsb=p3_irs_b, irsbm=p3_irs_b_model, irsbc=p3_irs_b_cont,
      sed=p3_sed_model, phot=p3_phot, photm=p3_phot_model, tau=[p3_tau_1,p3_tau_2,p3_tau_3], m=None),
 dict(jh=p4_jh_model, kobs=p4_k_obs, kmod=p4_k_model, lobs=p4_l_obs, lmod=p4_l_model, lcont=p4_l_cont,
      irsa=p4_irs_a, irsam=p4_irs_a_model, irsb=p4_irs_b, irsbm=p4_irs_b_model, irsbc=p4_irs_b_cont,
      sed=p4_sed_model, phot=p4_phot, photm=p4_phot_model, tau=[p4_tau_1,p4_tau_2,p4_tau_3], m=None),
 dict(jh=p5_jh_model, kobs=p5_k_obs, kmod=p5_k_model, lobs=p5_l_obs, lmod=p5_l_model, lcont=p5_l_cont,
      irsa=p5_irs_a, irsam=p5_irs_a_model, irsb=p5_irs_b, irsbm=p5_irs_b_model, irsbc=p5_irs_b_cont,
      sed=p5_sed_model, phot=p5_phot, photm=p5_phot_model, tau=[p5_tau_1,p5_tau_2,p5_tau_3], m=p5_m_model),
]

RED = '#ff0000'; BLUE = '#0000ff'; BLK = 'black'

for i, s in enumerate(stars):
    ra = 2*i; rb = 2*i + 1
    name = star_names[i]
    # ---- row a, col 1: near-IR spectra
    ax = add_ax(*cols_px[0], *rows_px[ra])
    draw(ax, s['jh'], RED, 0.9, 3)
    draw(ax, s['kobs'], BLK, 0.7, 2)
    draw(ax, s['kmod'], RED, 0.8, 3)
    draw(ax, s['lobs'], BLK, 0.7, 2)
    draw(ax, s['lmod'], RED, 0.8, 3)
    if s['m'] is not None:
        draw(ax, s['m'], RED, 0.9, 3)
    dots(ax, s['phot'], BLK, 3.2, 5)
    if i == 2:
        style(ax, (0.914, 5.5), [1,2,3,4,5], ['1','2','3','4','5'], [1.5,2.5,3.5,4.5,5.5], (ra,0))
    else:
        style(ax, (0.92, 4.93), [1,2,3,4], ['1','2','3','4'], [1.2,1.6,2.8,3.2,4.8], (ra,0))
    ax.text(0.016, 0.033, star_long[i], transform=ax.transAxes, fontsize=10, va='baseline', ha='left')
    ax.set_ylabel(ylab, fontsize=10.5)
    ax.yaxis.set_label_coords(-0.12, 0.5)

    # ---- row a, col 2: full SED
    ax = add_ax(*cols_px[1], *rows_px[ra])
    draw(ax, s['kobs'], BLK, 0.7, 2)
    draw(ax, s['lobs'], BLK, 0.7, 2)
    draw(ax, s['irsa'], BLK, 0.8, 2)
    draw(ax, s['irsb'], BLK, 0.8, 2)
    draw(ax, s['sed'], RED, 0.8, 3)
    dots(ax, s['photm'], RED, 3.2, 4)
    dots(ax, s['phot'], BLK, 3.2, 5)
    style(ax, (0.8, 12), [2,4,6,8,10,12], ['2','4','6','8','10','12'], [1,3,5,7,9,11], (ra,1))
    ax.text(0.011, 0.022, name, transform=ax.transAxes, fontsize=10.5, va='baseline', ha='left')

    # ---- row a, col 3: 5-8 micron
    ax = add_ax(*cols_px[2], *rows_px[ra])
    draw(ax, s['irsa'], BLK, 1.1, 2)
    draw(ax, s['irsam'], RED, 0.9, 3)
    dots(ax, s['photm'], RED, 3.2, 4)
    dots(ax, s['phot'], BLK, 3.2, 5)
    style(ax, (5, 8), [5,6,7,8], ['5','6','7','8'], [5.5,6.5,7.5], (ra,2))
    ax.text(0.011, 0.022, name, transform=ax.transAxes, fontsize=10.5, va='baseline', ha='left')

    # ---- row b, col 1: 2-4 micron
    ax = add_ax(*cols_px[0], *rows_px[rb])
    draw(ax, s['kobs'], BLK, 0.7, 2)
    draw(ax, s['kmod'], RED, 0.8, 4)
    draw(ax, s['lobs'], BLK, 0.7, 2)
    draw(ax, s['lcont'], BLUE, 1.0, 3)
    draw(ax, s['lmod'], RED, 0.8, 4)
    dots(ax, s['photm'], RED, 3.2, 5)
    dots(ax, s['phot'], BLK, 3.2, 6)
    style(ax, (2, 4), [2,3,4], ['2','3','4'], [2.5], (rb,0))
    ax.text(0.016, 0.022, name, transform=ax.transAxes, fontsize=10.5, va='baseline', ha='left')
    ax.set_ylabel(ylab, fontsize=10.5)
    ax.yaxis.set_label_coords(-0.12, 0.5)
    if i == 2:
        ax.set_xlabel('λ (µm)', fontsize=11, labelpad=3)

    # ---- row b, col 2: 8-12 micron
    ax = add_ax(*cols_px[1], *rows_px[rb])
    draw(ax, s['irsb'], BLK, 1.2, 2)
    draw(ax, s['irsbc'], BLUE, 0.9, 3)
    draw(ax, s['irsbm'], RED, 0.9, 4)
    style(ax, (8, 12), [8,9,10,11,12], ['8','9','10','11','12'], [8.5,9.5,10.5,11.5], (rb,1))
    ax.text(0.011, 0.022, name, transform=ax.transAxes, fontsize=10.5, va='baseline', ha='left')
    if i == 2:
        ax.set_xlabel('λ (µm)', fontsize=11, labelpad=3)

    # ---- row b, col 3: optical depth
    if i == 2:
        ax = add_ax(701, 968, *rows_px[rb])
        xl = (1.96, 22.8)
    else:
        ax = add_ax(*cols_px[2], *rows_px[rb])
        xl = (1.55, 22.7)
    for seg in s['tau']:
        draw(ax, seg, BLK, 0.7, 2)
    ax.axhline(0.0, color=BLK, lw=1.0, ls=(0, (4, 3)), zorder=3)
    style(ax, xl, [3,6,9,12,15,18,21], ['3','6','9','12','15','18','21'], tick_minor_F, (rb,2))
    ax.text(0.012, 0.022, name, transform=ax.transAxes, fontsize=10.5, va='baseline', ha='left')
    ax.set_ylabel('Optical Depth', fontsize=10.5)
    ax.yaxis.set_label_coords(-0.068 if i < 2 else -0.116, 0.5)
    if i == 2:
        ax.set_xlabel('λ (µm)', fontsize=11, labelpad=3)

fig.savefig('out.png', dpi=100)
